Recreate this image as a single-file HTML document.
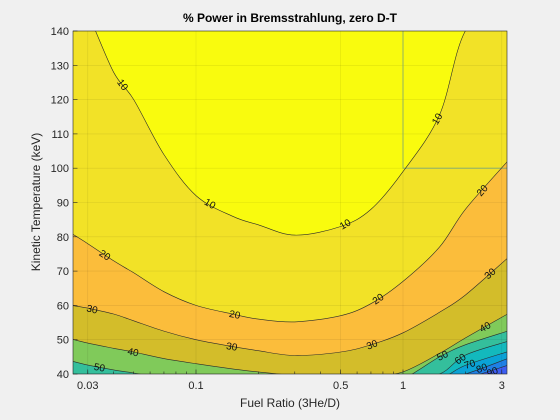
<!DOCTYPE html>
<html><head><meta charset="utf-8"><style>
html,body{margin:0;padding:0;background:#f0f0f0;width:560px;height:420px;overflow:hidden;}
svg{display:block;font-family:"Liberation Sans",Arial,sans-serif;}
</style></head><body>
<svg id="chart" width="560" height="420" viewBox="0 0 560 420" xmlns="http://www.w3.org/2000/svg">
<rect x="0" y="0" width="560" height="420" fill="#f0f0f0"/>
<text x="290" y="22" text-anchor="middle" font-size="12" font-weight="bold" fill="#000">% Power in Bremsstrahlung, zero D-T</text>
<text x="290" y="407" text-anchor="middle" font-size="12" fill="#262626">Fuel Ratio (3He/D)</text>
<text transform="translate(40,202) rotate(-90)" text-anchor="middle" font-size="12" fill="#262626">Kinetic Temperature (keV)</text>
<defs><clipPath id="pc"><rect x="73" y="31" width="434" height="343"/></clipPath></defs>
<g id="plot" clip-path="url(#pc)"></g>
<g id="axes"></g>
</svg>
<script>
// data
const xSamples = [0.025,0.03,0.04,0.05,0.07,0.1,0.15,0.2,0.3,0.5,0.7,1,1.5,2,3.2];
const levels = [10,20,30,40,50,60,70,80,90];
const curve10 = [160,145,128,120,104,92,86,83.5,80.5,83,88,99,115.5,140,175];
const curve20 = [81,78,73,69.5,64,60,57.5,56,55.2,57,60.5,67,77,88,102];
const curve30 = [60,59.2,57.5,55.5,52.5,50,48,46.8,45.4,46.4,48.5,52,58,63,73.8];
const curve40 = [50.2,49,47.5,46.4,44.5,43,41.5,40.6,39.6,38.5,39.3,40.6,46,50.5,57.5];
const curve50 = [43.8,42.6,41.2,40.3,38.5,37,35.5,34.5,33.5,33.5,35,38,45,48.5,52.5];
const curve60 = [30,30,30,30,30,30,30,30,30,30,31,33,40,45.5,49.5];
const curve70 = [28,28,28,28,28,28,28,28,28,28,29,31,37,42.5,46.5];
const curve80 = [26,26,26,26,26,26,26,26,26,26,27,29,34,40,44.5];
const curve90 = [24,24,24,24,24,24,24,24,24,24,25,27,31,37.5,42.5];
const curves = [curve10,curve20,curve30,curve40,curve50,curve60,curve70,curve80,curve90];
const labelLevels = [10,10,10,10,20,20,20,20,30,30,30,30,40,40,40,50,50,60,70,80,90];
const labelX = [0.0443,0.117,0.525,1.46,0.0363,0.154,0.757,2.41,0.0315,0.149,0.708,2.63,0.0497,0.586,2.49,0.0342,1.55,1.89,2.1,2.4,2.7];
const xTicks = [0.03,0.1,0.5,1,3];
const xTickLabels = ["0.03","0.1","0.5","1","3"];
const xMinor = [0.03,0.04,0.05,0.06,0.07,0.08,0.09,0.2,0.3,0.4,0.5,0.6,0.7,0.8,0.9,2,3];
const yTicks = [40,50,60,70,80,90,100,110,120,130,140];

const bandColors = ["#f9fb0e","#f2e227","#fbbd3b","#d3bd2a","#80ca5a","#34bf9c","#13b9bd","#0aa2d6","#1f80e6","#3c5df2"];
const NS="http://www.w3.org/2000/svg";
const X0=73,X1=507,Y0=31,Y1=374;
function sx(v){return 403+207*Math.log10(v);}
function sy(t){return 374-(t-40)*3.43;}
function el(tag,attrs,parent){const e=document.createElementNS(NS,tag);for(const k in attrs)e.setAttribute(k,attrs[k]);parent.appendChild(e);return e;}
function interp(c,v){const lv=Math.log10(v);for(let i=0;i<xSamples.length-1;i++){const a=Math.log10(xSamples[i]),b=Math.log10(xSamples[i+1]);if(lv>=a&&lv<=b){const f=(lv-a)/(b-a);return c[i]+(c[i+1]-c[i])*f;}}return c[c.length-1];}
function cl(y){return Math.max(Y0-40,Math.min(Y1+4,y));}
function smoothPath(c){
  const p=xSamples.map((v,i)=>[sx(v),cl(sy(c[i]))]);
  let d='M'+p[0][0].toFixed(1)+','+p[0][1].toFixed(1);
  for(let i=0;i<p.length-1;i++){
    const p0=p[Math.max(0,i-1)],p1=p[i],p2=p[i+1],p3=p[Math.min(p.length-1,i+2)];
    const c1=[p1[0]+(p2[0]-p0[0])/6,cl(p1[1]+(p2[1]-p0[1])/6)];
    const c2=[p2[0]-(p3[0]-p1[0])/6,cl(p2[1]-(p3[1]-p1[1])/6)];
    d+='C'+c1[0].toFixed(1)+','+c1[1].toFixed(1)+' '+c2[0].toFixed(1)+','+c2[1].toFixed(1)+' '+p2[0].toFixed(1)+','+p2[1].toFixed(1);
  }
  return d;
}
const plot=document.getElementById('plot');
const axes=document.getElementById('axes');
const bg=el('rect',{x:X0,y:Y0,width:X1-X0,height:Y1-Y0,fill:bandColors[0]},plot);


curves.forEach((c,i)=>{
  const last=sx(xSamples[xSamples.length-1]);
  const d=smoothPath(c)+`L${last},${Y1+4}L${sx(xSamples[0])},${Y1+4}Z`;
  const p=el('path',{d:d,fill:bandColors[i+1]},plot);
  
  
});
xTicks.forEach(v=>{const g=el('line',{x1:sx(v),x2:sx(v),y1:Y0,y2:Y1,stroke:'#000','stroke-opacity':0.1,'stroke-width':0.6},plot);

});
yTicks.forEach(t=>{const g=el('line',{x1:X0,x2:X1,y1:sy(t),y2:sy(t),stroke:'#000','stroke-opacity':0.1,'stroke-width':0.6},plot);

});
const a1=el('path',{d:`M${sx(1)},${Y0}L${sx(1)},${sy(100)}L${X1},${sy(100)}`,fill:'none',stroke:'#7aa57a','stroke-width':0.8},plot);


curves.forEach((c,i)=>{
  const p=el('path',{d:smoothPath(c),fill:'none',stroke:'#2a2a2a','stroke-width':0.6},plot);
  
  
});
labelLevels.forEach((L,i)=>{
  const c=curves[levels.indexOf(L)];const v=labelX[i];
  const x=sx(v),y=sy(interp(c,v));
  const v2=v*1.03,x2=sx(v2),y2=sy(interp(c,v2));
  let ang=Math.atan2(y2-y,x2-x)*180/Math.PI;
  const t=el('text',{x:x,y:y+3.5,'text-anchor':'middle','font-size':10,fill:'#111',transform:`rotate(${ang.toFixed(1)},${x.toFixed(1)},${y.toFixed(1)})`},plot);
  t.textContent=L;
  
  
});
const fr=el('rect',{x:X0,y:Y0,width:X1-X0,height:Y1-Y0,fill:'none',stroke:'#262626','stroke-width':0.6},axes);


xMinor.forEach(v=>{const m=el('line',{x1:sx(v),x2:sx(v),y1:Y1,y2:Y1-2.5,stroke:'#262626','stroke-width':0.6},axes);

});
xTicks.forEach((v,i)=>{
  const tk=el('line',{x1:sx(v),x2:sx(v),y1:Y1,y2:Y1-4.5,stroke:'#262626','stroke-width':0.6},axes);
  
  
  const t=el('text',{x:sx(v),y:Y1+15,'text-anchor':'middle','font-size':11,fill:'#262626'},axes);
  t.textContent=xTickLabels[i];
  
  
});
yTicks.forEach(tv=>{
  const tk=el('line',{x1:X0,x2:X0+4.5,y1:sy(tv),y2:sy(tv),stroke:'#262626','stroke-width':0.6},axes);
  
  
  const t=el('text',{x:X0-4,y:sy(tv)+4,'text-anchor':'end','font-size':11,fill:'#262626'},axes);
  t.textContent=tv;
  
  
});
</script>
</body></html>
